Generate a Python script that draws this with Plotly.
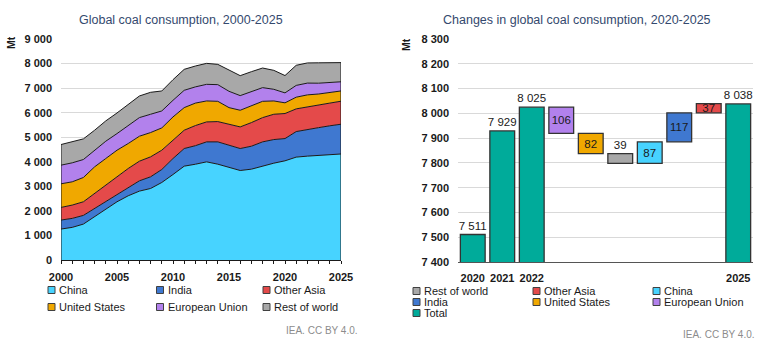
import plotly.graph_objects as go

# ---------------- data: left chart (Mt) ----------------
years = list(range(2000, 2026))
china = [1260, 1328, 1463, 1762, 2060, 2371, 2615, 2805, 2913, 3157, 3482, 3821, 3900,
         3997, 3902, 3780, 3645, 3699, 3835, 3943, 4040, 4190, 4230, 4250, 4285, 4317]
india = [366, 366, 353, 338, 320, 300, 339, 420, 475, 529, 651, 718, 755,
         813, 908, 895, 894, 935, 975, 962, 905, 1040, 1095, 1140, 1180, 1212]
other_asia = [515, 542, 555, 610, 670, 716, 772, 799, 813, 786, 745, 746, 820,
              813, 827, 840, 881, 962, 989, 1030, 1020, 925, 900, 915, 925, 937]
united_states = [962, 948, 989, 1084, 1084, 1084, 1017, 1017, 989, 907, 949, 921, 915,
                 854, 826, 691, 678, 678, 664, 542, 435, 475, 500, 455, 435, 418]
european_union = [759, 773, 732, 678, 704, 677, 718, 758, 745, 691, 677, 705, 660,
                  677, 678, 664, 596, 569, 556, 474, 405, 480, 480, 440, 405, 374]
rest_of_world = [840, 853, 840, 813, 827, 840, 880, 881, 894, 813, 840, 853, 850,
                 854, 826, 854, 813, 826, 799, 773, 706, 819, 820, 830, 805, 780]

series_names = ["China", "India", "Other Asia", "United States", "European Union", "Rest of world"]
series_values = [china, india, other_asia, united_states, european_union, rest_of_world]
series_colors = ["#47d3ff", "#3f78d0", "#e44a4a", "#f0a800", "#b281ec", "#a8a8a8"]

# ---------------- data: right chart (waterfall, Mt) ----------------
wf_categories = ["2020", "2021", "2022", "European Union", "United States",
                 "Rest of world", "China", "India", "Other Asia", "2025"]
wf_values = [7511, 7929, 8025, -106, -82, -39, 87, 117, 37, 8038]
wf_is_total = [True, True, True, False, False, False, False, False, False, True]
wf_label_outside = [True, True, True, False, False, True, False, False, False, True]
wf_colors = ["#00ab9a", "#00ab9a", "#00ab9a", "#b281ec", "#f0a800",
             "#a8a8a8", "#47d3ff", "#3f78d0", "#e44a4a", "#00ab9a"]
wf_tick_labels = ["2020", "2021", "2022", "2025"]

W, H = 773, 354
FONT = "Liberation Sans, Arial, sans-serif"
TXT = "#1a1a1a"


def px_x(p):
    return p / W


def px_y(p):
    return (H - p) / H


fig = go.Figure()

# stacked areas
for name, vals, col in zip(series_names, series_values, series_colors):
    fig.add_trace(go.Scatter(
        x=years, y=vals, name=name, stackgroup="one", mode="lines",
        line=dict(color="#1a1a1a", width=1), fillcolor=col,
        showlegend=False, xaxis="x", yaxis="y", hoverinfo="x+y+name"))

# left/right edges of the stacked area
total_first = sum(v[0] for v in series_values)
total_last = sum(v[-1] for v in series_values)
for xx, top in [(years[0], total_first), (years[-1], total_last)]:
    fig.add_trace(go.Scatter(x=[xx, xx], y=[0, top], mode="lines",
                             line=dict(color="#1a1a1a", width=1),
                             showlegend=False, hoverinfo="skip", xaxis="x", yaxis="y"))

# waterfall bars
bases, heights, texts, positions = [], [], [], []
level = 0
for v, tot, outside in zip(wf_values, wf_is_total, wf_label_outside):
    if tot:
        bases.append(0)
        heights.append(v)
        level = v
    else:
        start, end = level, level + v
        bases.append(min(start, end))
        heights.append(abs(v))
        level = end
    positions.append("outside" if outside else "inside")
    texts.append(f"{abs(v):,}".replace(",", " "))

fig.add_trace(go.Bar(
    x=list(range(len(wf_categories))), y=heights, base=bases,
    marker=dict(color=wf_colors, line=dict(color="#333333", width=1.3)),
    text=texts, textposition=positions, constraintext="none", textangle=0,
    textfont=dict(family=FONT, size=11.5, color=TXT),
    insidetextfont=dict(family=FONT, size=11.5, color=TXT),
    outsidetextfont=dict(family=FONT, size=11.5, color=TXT),
    insidetextanchor="middle",
    showlegend=False, xaxis="x2", yaxis="y2",
    hovertext=wf_categories, hoverinfo="text+y"))

grid = "#d9d9d9"
tickfont = dict(family=FONT, size=11, color=TXT, weight="bold")

fig.update_layout(
    width=W, height=H, margin=dict(l=0, r=0, t=0, b=0, autoexpand=False),
    paper_bgcolor="white", plot_bgcolor="white",
    separators=". ", bargap=0.16, showlegend=False,
    font=dict(family=FONT, size=11, color=TXT),
    xaxis=dict(domain=[px_x(61), px_x(341)], range=[2000, 2025], dtick=5, tick0=2000,
               showgrid=False, zeroline=False, showline=True, linecolor="#1a1a1a",
               linewidth=1, ticks="outside", ticklen=3, tickcolor="#1a1a1a",
               minor=dict(dtick=1, ticks="outside", ticklen=3, tickcolor="#1a1a1a"),
               tickfont=tickfont, ticklabelstandoff=4, anchor="y", automargin=False),
    yaxis=dict(domain=[px_y(260), px_y(39)], range=[0, 9000], dtick=1000,
               tickformat=",d", showgrid=True, gridcolor=grid, gridwidth=1,
               zeroline=False, showline=False, tickfont=tickfont,
               ticklabelstandoff=8, anchor="x", automargin=False),
    xaxis2=dict(domain=[px_x(458), px_x(753)], range=[-0.5, len(wf_categories) - 0.5],
                tickmode="array", tickvals=[0, 1, 2, len(wf_categories) - 1],
                ticktext=wf_tick_labels, showgrid=False, zeroline=False,
                showline=True, linecolor="#555555", linewidth=1, ticks="",
                tickfont=tickfont, ticklabelstandoff=6, anchor="y2", automargin=False),
    yaxis2=dict(domain=[px_y(262), px_y(39)], range=[7400, 8300], dtick=100,
                tickformat=",d", showgrid=True, gridcolor=grid, gridwidth=1,
                zeroline=False, showline=False, tickfont=tickfont,
                ticklabelstandoff=8, anchor="x2", automargin=False),
)

ann = []
# titles
ann.append(dict(text="Global coal consumption, 2000-2025", x=px_x(181), y=px_y(20),
                font=dict(family=FONT, size=12.5, color="#34496e")))
ann.append(dict(text="Changes in global coal consumption, 2020-2025", x=px_x(577), y=px_y(20),
                font=dict(family=FONT, size=12.5, color="#34496e")))
# axis unit labels
ann.append(dict(text="Mt", x=px_x(11), y=px_y(43), textangle=-90,
                font=dict(family=FONT, size=10.5, color=TXT, weight="bold")))
ann.append(dict(text="Mt", x=px_x(406), y=px_y(45), textangle=-90,
                font=dict(family=FONT, size=10.5, color=TXT, weight="bold")))
# source notes
ann.append(dict(text="IEA. CC BY 4.0.", x=px_x(360), y=px_y(330), xanchor="right",
                font=dict(family=FONT, size=10, color="#8c8c8c")))
ann.append(dict(text="IEA. CC BY 4.0.", x=px_x(757), y=px_y(334), xanchor="right",
                font=dict(family=FONT, size=10, color="#8c8c8c")))

shapes = []


def legend_item(label, color, sx, cy, size=11):
    s = 7
    shapes.append(dict(type="rect", xref="paper", yref="paper",
                       x0=px_x(sx), x1=px_x(sx + s), y0=px_y(cy + s / 2), y1=px_y(cy - s / 2),
                       fillcolor=color, line=dict(color="#404040", width=1)))
    ann.append(dict(text=label, x=px_x(sx + 9), y=px_y(cy), xanchor="left",
                    font=dict(family=FONT, size=size, color=TXT)))


# left legend (2 rows x 3 columns)
left_cols = [48, 156.5, 263]
left_rows = [290, 307]
for i, (name, col) in enumerate(zip(series_names, series_colors)):
    legend_item(name, col, left_cols[i % 3], left_rows[i // 3])

# right legend
right_order = ["Rest of world", "Other Asia", "China", "India", "United States",
               "European Union", "Total"]
color_of = dict(zip(series_names, series_colors))
color_of["Total"] = wf_colors[0]
right_cols = [413, 533, 653]
right_rows = [291, 302, 313]
for i, name in enumerate(right_order):
    legend_item(name, color_of[name], right_cols[i % 3], right_rows[i // 3])

for a in ann:
    a.setdefault("xref", "paper")
    a.setdefault("yref", "paper")
    a.setdefault("showarrow", False)
    a.setdefault("xanchor", "center")
    a.setdefault("yanchor", "middle")

fig.update_layout(annotations=ann, shapes=shapes)
fig.write_html("out.html")
